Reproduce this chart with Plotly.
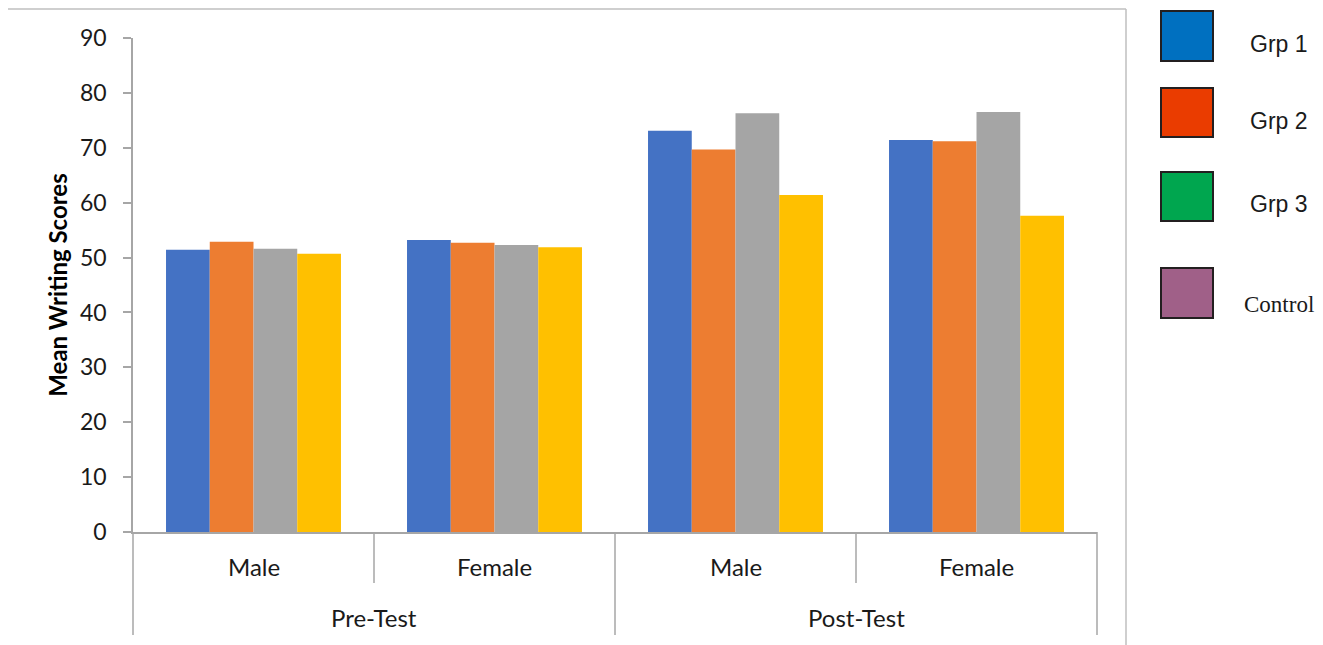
import plotly.graph_objects as go

# ---- data ----
tests = ["Pre-Test", "Pre-Test", "Post-Test", "Post-Test"]
genders = ["Male", "Female", "Male", "Female"]
series_names = ["Grp 1", "Grp 2", "Grp 3", "Control"]
grp1 = [51.4, 53.2, 73.1, 71.4]
grp2 = [52.9, 52.7, 69.7, 71.2]
grp3 = [51.6, 52.3, 76.3, 76.5]
control = [50.7, 51.9, 61.4, 57.6]
bar_colors = ["#4472C4", "#ED7D31", "#A5A5A5", "#FFC000"]
legend_labels = ["Grp 1", "Grp 2", "Grp 3", "Control"]
legend_colors = ["#0070C0", "#EA3C00", "#00A64F", "#A06088"]

# page body has an 8px margin in the browser -> compensate
OFF = 8
W, H = 1323 - OFF, 645 - OFF
L, R, T, B = 133 - OFF, 226, 38 - OFF, 113
PW, PH = W - L - R, H - T - B


def px(x):
    # x in screenshot pixels -> paper
    return (x - OFF - L) / PW


def py(y):
    # y in screenshot pixels -> paper
    return (H - B - (y - OFF)) / PH


fig = go.Figure()
for name, vals, col in zip(series_names, [grp1, grp2, grp3, control], bar_colors):
    fig.add_trace(go.Bar(x=[tests, genders], y=vals, name=name,
                         marker=dict(color=col, line=dict(width=0)),
                         showlegend=False))

shapes = []
annotations = []
axis_col = "#A6A6A6"
text_col = "#1A1A1A"

# outer chart frame
frame_col = "#BFBFBF"
shapes.append(dict(type="line", xref="paper", yref="paper", x0=px(6.5), x1=px(1126), y0=py(9), y1=py(9),
                   line=dict(color=frame_col, width=1.5)))
for xv in (6.5, 1126):
    shapes.append(dict(type="line", xref="paper", yref="paper", x0=px(xv), x1=px(xv), y0=py(9), y1=py(680),
                       line=dict(color=frame_col, width=1.5)))

# category axis labels and dividers (two levels)
n = len(genders)
for i, g in enumerate(genders):
    annotations.append(dict(xref="paper", yref="paper", x=(i + 0.5) / n, y=py(566), text=g,
                            showarrow=False, xanchor="center", yanchor="middle",
                            font=dict(family="Lato", size=24, color=text_col)))
    if i > 0 and tests[i] == tests[i - 1]:
        shapes.append(dict(type="line", xref="paper", yref="paper", x0=i / n, x1=i / n, y0=0, y1=py(583),
                           line=dict(color=axis_col, width=1.5)))
start = 0
for i in range(1, n + 1):
    if i == n or tests[i] != tests[start]:
        annotations.append(dict(xref="paper", yref="paper", x=(start + i) / 2 / n, y=py(617), text=tests[start],
                                showarrow=False, xanchor="center", yanchor="middle",
                                font=dict(family="Lato", size=24, color=text_col)))
        start = i
for i in range(n + 1):
    if i == 0 or i == n or tests[i] != tests[i - 1]:
        shapes.append(dict(type="line", xref="paper", yref="paper", x0=i / n, x1=i / n, y0=0, y1=py(635),
                           line=dict(color=axis_col, width=1.5)))

# custom legend
box_rows = [(11, 61, 44), (88, 137, 121), (172, 221, 204), (268, 318, 304)]
for (y0, y1, ty), lab, col in zip(box_rows, legend_labels, legend_colors):
    shapes.append(dict(type="rect", xref="paper", yref="paper", x0=px(1161), x1=px(1213),
                       y0=py(y1), y1=py(y0), fillcolor=col, line=dict(color="#231F20", width=2)))
    fam = "Liberation Serif" if lab == "Control" else "Liberation Sans"
    annotations.append(dict(xref="paper", yref="paper", x=px(1279), y=py(ty), text=lab, showarrow=False,
                            xanchor="center", yanchor="middle", font=dict(family=fam, size=23, color=text_col)))

fig.update_layout(
    width=W, height=H,
    margin=dict(l=L, r=R, t=T, b=B, autoexpand=False),
    plot_bgcolor="white", paper_bgcolor="white",
    barmode="group", bargap=0.274, bargroupgap=0,
    font=dict(family="Lato", size=24, color=text_col),
    shapes=shapes, annotations=annotations,
    xaxis=dict(type="multicategory", showline=True, linecolor=axis_col, linewidth=1.5,
               showdividers=False, showticklabels=False,
               ticks="", showgrid=False),
    yaxis=dict(range=[0, 90], dtick=10, showgrid=False, zeroline=False,
               showline=True, linecolor=axis_col, linewidth=1.5,
               ticks="outside", ticklen=8, tickcolor=axis_col, tickwidth=1.5,
               ticklabelstandoff=12,
               tickfont=dict(family="Lato", size=23, color=text_col),
               title=dict(text="<b>Mean Writing Scores</b>", standoff=6,
                          font=dict(family="Lato", size=24, color="#000000"))),
)

fig.write_html("out.html")
